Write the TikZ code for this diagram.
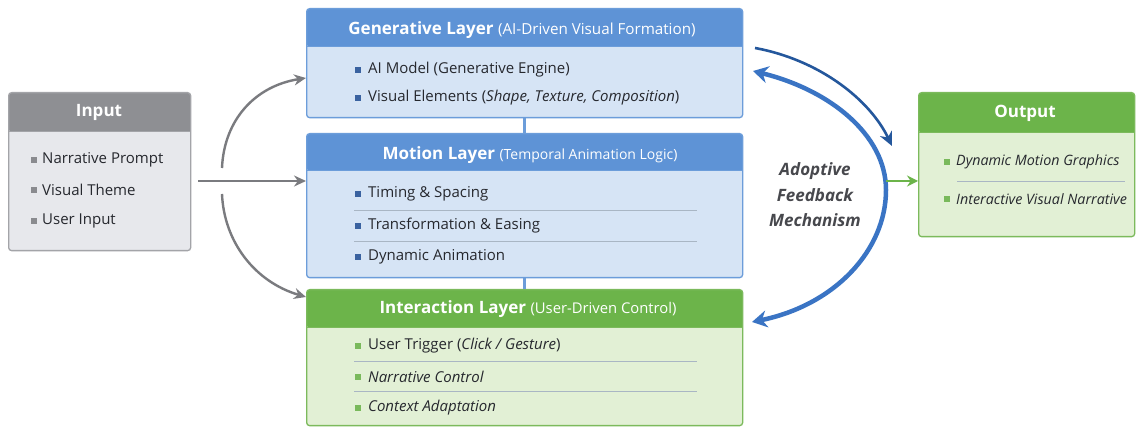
\documentclass[tikz,border=0pt]{standalone}
\usepackage{fontspec}
\setmainfont{Open Sans}
\usetikzlibrary{arrows.meta}
\definecolor{bluehd}{HTML}{5E93D6}
\definecolor{bluebd}{HTML}{D6E4F5}
\definecolor{bluedg}{HTML}{6C9DDA}
\definecolor{bluebul}{HTML}{3A62A0}
\definecolor{greenhd}{HTML}{6CB44A}
\definecolor{greenbd}{HTML}{E2F0D5}
\definecolor{greendg}{HTML}{7CBA5C}
\definecolor{greenbul}{HTML}{79B95B}
\definecolor{grayhd}{HTML}{8E8F93}
\definecolor{graybd}{HTML}{E7E8EC}
\definecolor{graydg}{HTML}{A3A4A8}
\definecolor{graybul}{HTML}{8A8B8F}
\definecolor{txt}{HTML}{26282E}
\definecolor{arrowgray}{HTML}{7A7B7F}
\definecolor{fbblue}{HTML}{3A74C4}
\definecolor{fbdark}{HTML}{24579C}
\definecolor{seprule}{HTML}{A9B6C4}
\tikzset{
  x=1pt, y=-1pt,
  panel/.style n args={3}{draw=#3, fill=#2, line width=1.3pt, rounded corners=3pt,
    inner sep=0pt, anchor=north west,
    path picture={\fill[#1] (path picture bounding box.north west) rectangle
      ([yshift=-\hdrh]path picture bounding box.north east);
      \draw[#3, line width=0.8pt] ([yshift=-\hdrh]path picture bounding box.north west) --
      ([yshift=-\hdrh]path picture bounding box.north east);}},
  title/.style={text=white, font=\bfseries\fontsize{17}{20}\selectfont, anchor=center},
  item/.style={text=txt, font=\fontsize{15}{18}\selectfont, anchor=west, inner sep=0pt},
  outitem/.style={item, font=\itshape\fontsize{14.3}{17}\selectfont},
  bullet/.style={fill=#1, minimum size=5.5pt, inner sep=0pt, anchor=center},
  sep/.style={draw=seprule, line width=0.7pt},
  link/.style={draw=bluedg, line width=3pt},
  grayarrow/.style={draw=arrowgray, line width=2.4pt, -{Stealth[length=12pt,width=11pt]}},
}
\newlength{\hdrh}
\newcommand{\sub}[2][13.8]{{\mdseries\fontsize{#1}{16}\selectfont(#2)}}
\begin{document}
\begin{tikzpicture}
\useasboundingbox (0,0) rectangle (1141,427);
\fill[white] (0,0) rectangle (1141,427);

% ---------- Input ----------
\setlength{\hdrh}{39pt}
\node[panel={grayhd}{graybd}{graydg}, minimum width=182pt, minimum height=158pt] (inp) at (8,92) {};
\node[title] (inpT) at (99,112) {Input};
\foreach \y/\t/\n in {160/Narrative Prompt/i1, 190/Visual Theme/i2, 221/User Input/i3}{
  \node[bullet=graybul] at (34,\y) {};
  \node[item] (\n) at (42,\y) {\t};
}

% ---------- Generative layer ----------
\setlength{\hdrh}{38pt}
\node[panel={bluehd}{bluebd}{bluedg}, minimum width=436pt, minimum height=109pt] (gen) at (306,8) {};
\node[title] (genT) at (522,30) {Generative Layer \sub[15.2]{AI-Driven Visual Formation}};
\node[bullet=bluebul] at (358,70) {};
\node[item] (g1) at (368,70) {AI Model (Generative Engine)};
\node[bullet=bluebul] at (358,98) {};
\node[item] (g2) at (368,98) {Visual Elements (\textit{Shape, Texture, Composition})};

% ---------- Motion layer ----------
\setlength{\hdrh}{37pt}
\node[panel={bluehd}{bluebd}{bluedg}, minimum width=436pt, minimum height=144pt] (mot) at (306,133) {};
\node[title] (motT) at (530,155) {Motion Layer \sub[14]{Temporal Animation Logic}};
\foreach \y/\t/\n in {194/Timing \& Spacing/m1, 226/Transformation \& Easing/m2, 257/Dynamic Animation/m3}{
  \node[bullet=bluebul] at (358,\y) {};
  \node[item] (\n) at (368,\y) {\t};
}
\draw[sep] (354,210) -- (697,210);
\draw[sep] (354,241) -- (697,241);

% ---------- Interaction layer ----------
\setlength{\hdrh}{38pt}
\node[panel={greenhd}{greenbd}{greendg}, minimum width=436pt, minimum height=136pt] (int) at (306,289) {};
\node[title] (intT) at (528,309) {Interaction Layer \sub[14.8]{User-Driven Control}};
\node[bullet=greenbul] at (358,346) {};
\node[item] (n1) at (368,346) {User Trigger (\textit{Click / Gesture})};
\node[bullet=greenbul] at (358,377) {};
\node[item] (n2) at (368,377) {\textit{Narrative Control}};
\node[bullet=greenbul] at (358,408) {};
\node[item] (n3) at (368,408) {\textit{Context Adaptation}};
\draw[sep] (354,361) -- (697,361);
\draw[sep] (354,391) -- (697,391);

% links between stacked layers
\draw[link] (gen.south) -- (mot.north);
\draw[link] (mot.south) -- (int.north);

% ---------- Output ----------
\setlength{\hdrh}{40pt}
\node[panel={greenhd}{greenbd}{greendg}, minimum width=216pt, minimum height=144pt] (out) at (918,92) {};
\node[title] (outT) at (1025,113) {Output};
\node[bullet=greenbul] at (947,162) {};
\node[outitem] (o1) at (956,162) {Dynamic Motion Graphics};
\node[bullet=greenbul] at (947,199) {};
\node[outitem] (o2) at (956,199) {Interactive Visual Narrative};
\draw[sep] (957,181) -- (1125,181);

% ---------- Input arrows ----------
\coordinate (fork) at (198,181);
\coordinate (upS) at (222,168);
\coordinate (dnS) at (222,194);
\draw[grayarrow] (fork) -- (mot.west |- fork);
\draw[grayarrow] (upS) .. controls (224,120) and (255,86) .. ([yshift=-1pt]gen.west |- 0,77);
\draw[grayarrow] (dnS) .. controls (224,242) and (255,282) .. (int.west |- 0,297);

% ---------- Feedback arrows ----------
\node[text=txt!85, font=\bfseries\itshape\fontsize{17}{25.5}\selectfont, align=center] (fb) at (815,195)
  {Adoptive\\Feedback\\Mechanism};
\coordinate (fbTop) at (753,71);
\coordinate (fbBot) at (752,322);
\coordinate (fbMid) at (886,190);
\draw[fbblue, line width=4.5pt, {Stealth[length=15pt,width=17pt]}-{Stealth[length=15pt,width=17pt]}]
  (fbTop) .. controls (830,90) and (886,135) .. (fbMid)
  .. controls (886,250) and (835,305) .. (fbBot);
\coordinate (dkS) at (755,48);
\draw[fbdark, line width=2.6pt, -{Stealth[length=14pt,width=13pt]}]
  (dkS) .. controls (820,60) and (870,100) .. (892,146);
\draw[draw=greenhd, line width=2.4pt, -{Stealth[length=11pt,width=11pt]}]
  (fbMid |- 0,181) -- (out.west |- 0,181);
\end{tikzpicture}
\end{document}
